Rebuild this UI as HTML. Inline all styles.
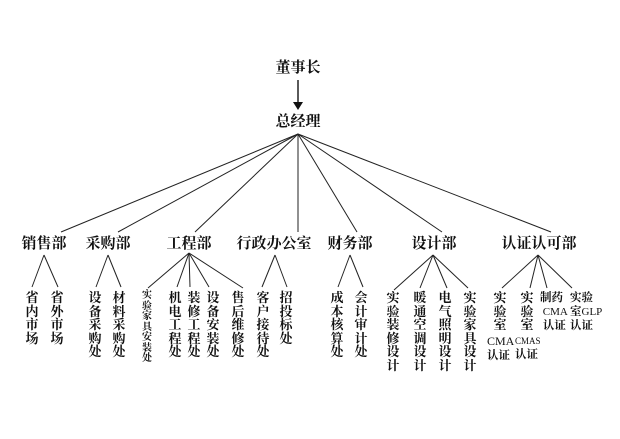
<!DOCTYPE html>
<html><head><meta charset="utf-8"><style>
html,body{margin:0;padding:0;background:#fff;}
#c{position:relative;width:620px;height:439px;overflow:hidden;font-family:"Liberation Serif","Noto Serif CJK SC",serif;color:#111;}
.t{position:absolute;white-space:nowrap;font-weight:bold;}
.d{font-size:15px;line-height:16px;transform:translateX(-50%);}
.v{font-size:13px;line-height:13.5px;width:14px;text-align:center;transform:translateX(-50%);top:291px;}
.s{font-size:10px;line-height:10.5px;}
.h{font-size:11.5px;line-height:14px;text-align:left;}
.l{font-size:11px;font-weight:normal;}
svg{position:absolute;left:0;top:0;}
</style></head><body><div id="c">
<svg width="620" height="439" stroke="#222" stroke-width="1" fill="none">
<line x1="298" y1="80" x2="298" y2="104" stroke-width="1.5"/>
<polygon points="293,102 303,102 298,110" fill="#111" stroke="none"/>
<g>
<line x1="298" y1="134" x2="61" y2="232"/>
<line x1="298" y1="134" x2="118" y2="232"/>
<line x1="298" y1="134" x2="195" y2="232"/>
<line x1="298" y1="134" x2="298" y2="232"/>
<line x1="298" y1="134" x2="357" y2="232"/>
<line x1="298" y1="134" x2="442" y2="232"/>
<line x1="298" y1="134" x2="551" y2="232"/>
</g>
<line x1="44" y1="255" x2="32" y2="287"/><line x1="44" y1="255" x2="58" y2="287"/>
<line x1="108" y1="255" x2="96" y2="287"/><line x1="108" y1="255" x2="121" y2="287"/>
<line x1="189" y1="253" x2="148" y2="288"/><line x1="189" y1="253" x2="177" y2="287"/><line x1="189" y1="253" x2="190" y2="287"/><line x1="189" y1="253" x2="209" y2="287"/><line x1="189" y1="253" x2="243" y2="288"/>
<line x1="275" y1="255" x2="262" y2="287"/><line x1="275" y1="255" x2="287" y2="287"/>
<line x1="350" y1="255" x2="338" y2="287"/><line x1="350" y1="255" x2="363" y2="287"/>
<line x1="433" y1="255" x2="394" y2="290"/><line x1="433" y1="255" x2="420" y2="288"/><line x1="433" y1="255" x2="447" y2="288"/><line x1="433" y1="255" x2="468" y2="288"/>
<line x1="538" y1="255" x2="502" y2="288"/><line x1="538" y1="255" x2="530" y2="288"/><line x1="538" y1="255" x2="547" y2="288"/><line x1="538" y1="255" x2="572" y2="288"/>
</svg>
<div class="t d" style="left:298px;top:60px;">董事长</div>
<div class="t d" style="left:298px;top:114px;">总经理</div>
<div class="t d" style="left:44px;top:236px;">销售部</div>
<div class="t d" style="left:108px;top:236px;">采购部</div>
<div class="t d" style="left:189px;top:236px;">工程部</div>
<div class="t d" style="left:274px;top:236px;">行政办公室</div>
<div class="t d" style="left:350px;top:236px;">财务部</div>
<div class="t d" style="left:434px;top:236px;">设计部</div>
<div class="t d" style="left:539px;top:236px;">认证认可部</div>

<div class="t v" style="left:32px;">省<br>内<br>市<br>场</div>
<div class="t v" style="left:57px;">省<br>外<br>市<br>场</div>
<div class="t v" style="left:95px;">设<br>备<br>采<br>购<br>处</div>
<div class="t v" style="left:119px;">材<br>料<br>采<br>购<br>处</div>
<div class="t v s" style="left:147px;">实<br>验<br>家<br>具<br>安<br>装<br>处</div>
<div class="t v" style="left:175px;">机<br>电<br>工<br>程<br>处</div>
<div class="t v" style="left:194px;">装<br>修<br>工<br>程<br>处</div>
<div class="t v" style="left:213px;">设<br>备<br>安<br>装<br>处</div>
<div class="t v" style="left:238px;">售<br>后<br>维<br>修<br>处</div>
<div class="t v" style="left:263px;">客<br>户<br>接<br>待<br>处</div>
<div class="t v" style="left:286px;">招<br>投<br>标<br>处</div>
<div class="t v" style="left:337px;">成<br>本<br>核<br>算<br>处</div>
<div class="t v" style="left:361px;">会<br>计<br>审<br>计<br>处</div>
<div class="t v" style="left:393px;">实<br>验<br>装<br>修<br>设<br>计</div>
<div class="t v" style="left:420px;">暖<br>通<br>空<br>调<br>设<br>计</div>
<div class="t v" style="left:445px;">电<br>气<br>照<br>明<br>设<br>计</div>
<div class="t v" style="left:470px;">实<br>验<br>家<br>具<br>设<br>计</div>
<div class="t v" style="left:500px;">实<br>验<br>室</div>
<div class="t v" style="left:527px;">实<br>验<br>室</div>
<div class="t h" style="left:487px;top:334px;"><span class="l" style="font-size:12px">CMA</span><br>认证</div>
<div class="t h" style="left:515px;top:334px;"><span class="l" style="font-size:9px">CMAS</span><br>认证</div>
<div class="t h" style="left:540px;top:291px;">制药<br><span class="l">&nbsp;CMA</span><br>&nbsp;认证</div>
<div class="t h" style="left:570px;top:291px;">实验<br>室<span class="l">GLP</span><br>认证</div>
</div></body></html>
